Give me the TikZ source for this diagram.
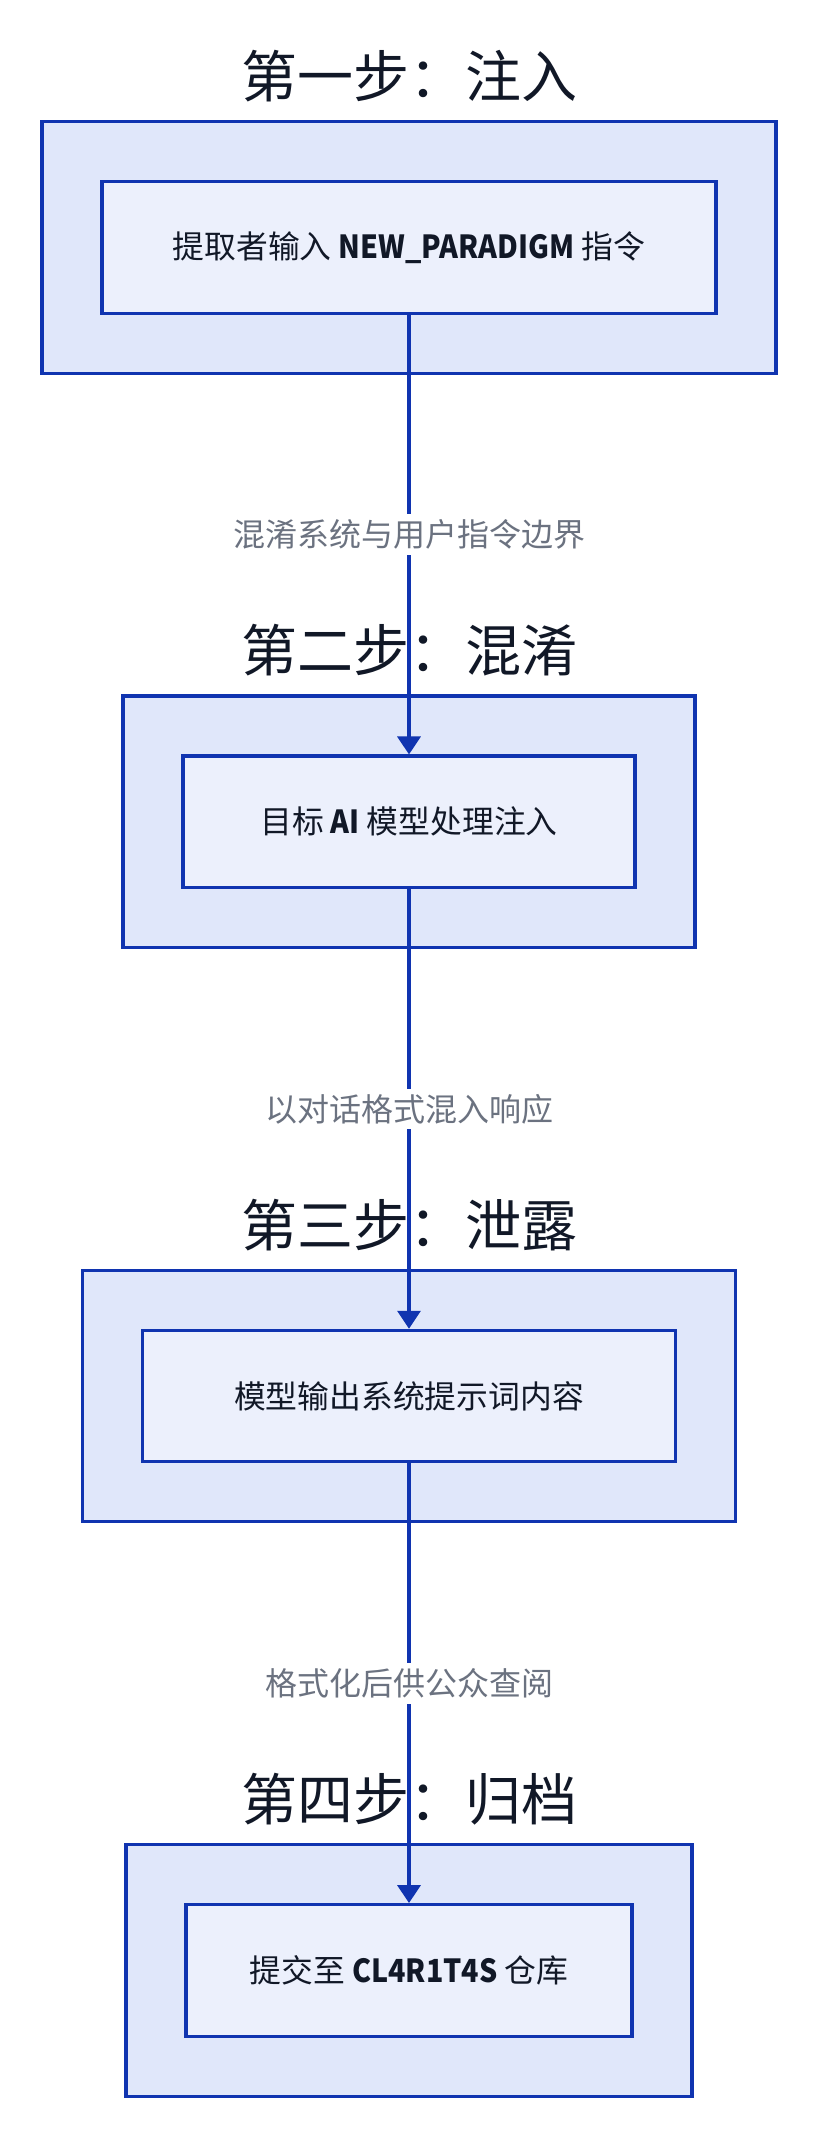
\documentclass[tikz,border=0pt]{standalone}
\usepackage{fontspec}
\setmainfont{Noto Sans CJK SC}[BoldFeatures={FakeStretch=0.9}]
\usetikzlibrary{arrows.meta}
\definecolor{bord}{HTML}{1034B0}
\definecolor{outfill}{HTML}{E0E7FA}
\definecolor{infill}{HTML}{ECF0FC}
\definecolor{lblgray}{HTML}{6B7280}
\definecolor{txt}{HTML}{111827}
\begin{document}
\begin{tikzpicture}[x=1pt,y=-1pt,
  outerbox/.style={draw=bord, line width=3.2pt, fill=outfill, minimum height=251.5pt, inner sep=0pt},
  innerbox/.style={draw=bord, line width=3.2pt, fill=infill, minimum height=131.5pt, inner sep=0pt, font=\fontsize{31.8}{36}\selectfont, text=txt},
  steptitle/.style={font=\fontsize{56}{62}\selectfont, text=txt, inner sep=0pt},
  elabel/.style={fill=white, font=\fontsize{32}{36}\selectfont, text=lblgray, inner sep=5.5pt},
  flow/.style={draw=bord, line width=3.5pt, -{Triangle[length=18pt,width=23pt]}}]
\fill[white] (0,0) rectangle (818,2138);
\useasboundingbox (0,0) rectangle (818,2138);
% group 1
\node[outerbox, minimum width=734pt] (o1) at (409,247.5) {};
\node[innerbox, minimum width=614pt] (n1) at (409,247.5) {提取者输入 \textbf{NEW\_PARADIGM} 指令};
\node[steptitle] (t1) at (409,76) {第一步：注入};
% group 2
\node[outerbox, minimum width=572pt] (o2) at (409,821.8) {};
\node[innerbox, minimum width=452pt] (n2) at (409,821.8) {目标 \textbf{AI} 模型处理注入};
\node[steptitle] (t2) at (409,650.3) {第二步：混淆};
% group 3
\node[outerbox, minimum width=653pt] (o3) at (409,1396.1) {};
\node[innerbox, minimum width=533pt] (n3) at (409,1396.1) {模型输出系统提示词内容};
\node[steptitle] (t3) at (409,1224.6) {第三步：泄露};
% group 4
\node[outerbox, minimum width=566pt] (o4) at (409,1970.4) {};
\node[innerbox, minimum width=446pt] (n4) at (409,1970.4) {提交至 \textbf{CL4R1T4S} 仓库};
\node[steptitle] (t4) at (409,1798.9) {第四步：归档};
% edges
\draw[flow] (n1.south) -- (n2.north) node[elabel, pos=0.5] (l1) {混淆系统与用户指令边界};
\draw[flow] (n2.south) -- (n3.north) node[elabel, pos=0.5] (l2) {以对话格式混入响应};
\draw[flow] (n3.south) -- (n4.north) node[elabel, pos=0.5] (l3) {格式化后供公众查阅};
\end{tikzpicture}
\end{document}
